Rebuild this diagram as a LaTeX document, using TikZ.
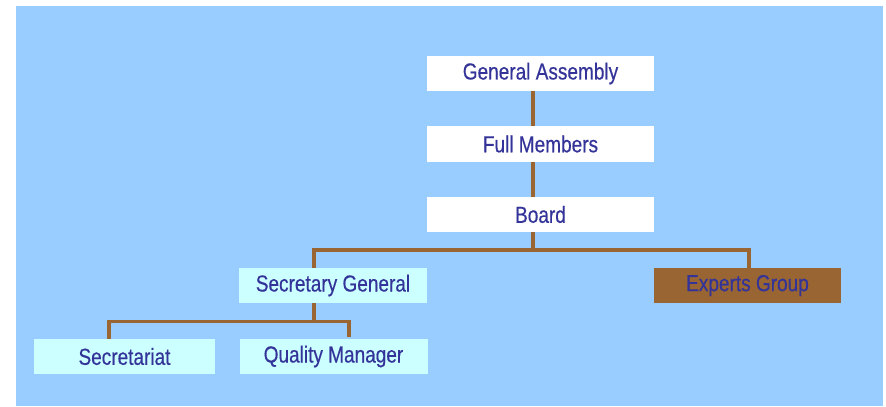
\documentclass[tikz,border=0pt]{standalone}
\usepackage{fontspec}
\setmainfont{Liberation Sans}[FakeStretch=0.82, FakeBold=0.4]
\usetikzlibrary{positioning}

\definecolor{skyblue}{HTML}{99CCFF}
\definecolor{palecyan}{HTML}{CCFFFF}
\definecolor{orgbrown}{HTML}{996633}
\definecolor{orgtext}{HTML}{333399}

\tikzset{
	unit/.style={minimum height=26.5pt, inner sep=0pt, text=orgtext,
		font=\fontsize{17.4pt}{20pt}\selectfont},
	topunit/.style={unit, fill=white, minimum width=170.5pt},
	subunit/.style={unit, fill=palecyan, minimum width=141pt},
	expunit/.style={unit, fill=orgbrown, minimum width=140pt},
	link/.style={draw=orgbrown, line width=2.6pt}
}

\begin{document}
\begin{tikzpicture}[x=0.75pt, y=-0.75pt]
	\useasboundingbox (0,0) rectangle (886,407);
	\fill[skyblue] (16,6) rectangle (883,406);
	
	% boxes
	\node [topunit] (assembly) at (540.5,73.5) {\raisebox{-1.2pt}{General Assembly}};
	\node [topunit] (members) at (540.5,144) {\raisebox{-1.2pt}{Full Members}};
	\node [topunit] (board) at (540.5,214.5) {\raisebox{-1.2pt}{Board}};
	\node [subunit] (secgen) at (333,285.5) {\raisebox{-1.2pt}{Secretary General}};
	\node [expunit] (experts) at (747.5,285.5) {\raisebox{-1.2pt}{Experts Group}};
	\node [subunit, minimum width=135.5pt] (secretariat) at (124.5,356.5) {\raisebox{-1.2pt}{Secretariat}};
	\node [subunit] (quality) at (333.5,356.5) {\raisebox{-1.2pt}{Quality Manager}};
	
	% upper links
	\draw [link] (assembly.south -| 533,0) -- (members.north -| 533,0);
	\draw [link] (members.south -| 533,0) -- (board.north -| 533,0);
	
	% board to secretary general and experts
	\coordinate (busB) at (533,250);
	\draw [link] (board.south -| busB) -- (busB);
	\draw [link] (secgen.north -| 314,0) |- (busB) -| (experts.north -| 749,0);
	
	% secretary general to secretariat and quality manager
	\coordinate (busS) at (314,321.5);
	\draw [link] (secgen.south -| busS) -- (busS);
	\draw [link] (secretariat.north -| 109,0) |- (busS) -| (349,336.5);
\end{tikzpicture}
\end{document}
